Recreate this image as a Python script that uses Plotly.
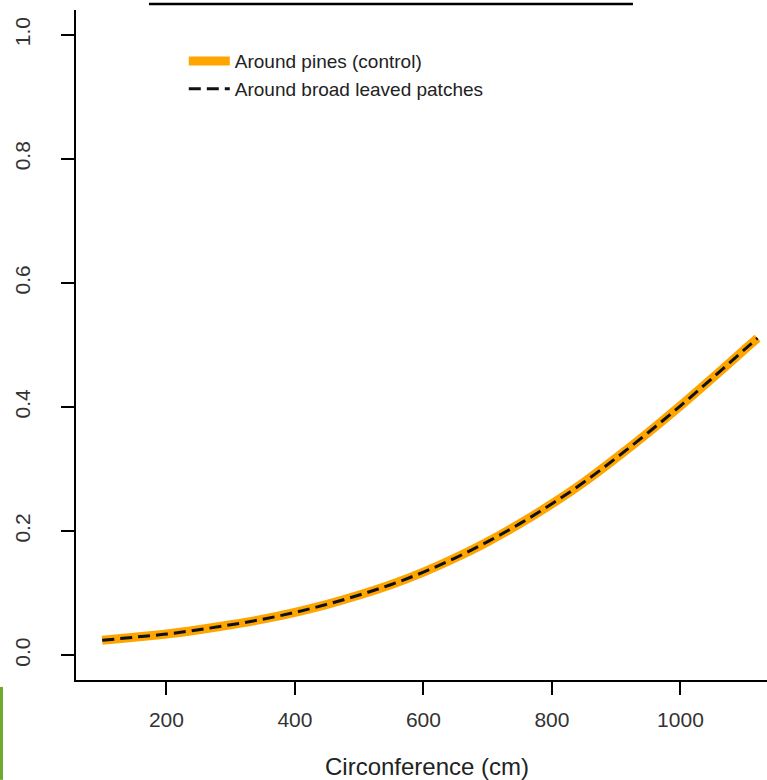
import plotly.graph_objects as go

# ---- data ----
circumference = [100, 150, 200, 250, 300, 350, 400, 450, 500, 550, 600, 650,
                 700, 750, 800, 850, 900, 950, 1000, 1050, 1100, 1120]
p_pines = [0.024, 0.029, 0.034, 0.041, 0.049, 0.058, 0.069, 0.082, 0.097, 0.114,
           0.134, 0.157, 0.183, 0.212, 0.244, 0.279, 0.318, 0.359, 0.402, 0.447,
           0.493, 0.511]
p_broad = [0.024, 0.029, 0.034, 0.041, 0.049, 0.058, 0.069, 0.082, 0.097, 0.114,
           0.134, 0.157, 0.183, 0.212, 0.244, 0.279, 0.318, 0.359, 0.402, 0.447,
           0.493, 0.511]
series_names = ["Around pines (control)", "Around broad leaved patches"]
x_tick_vals = [200, 400, 600, 800, 1000]
x_tick_text = ["200", "400", "600", "800", "1000"]
y_tick_vals = [0.0, 0.2, 0.4, 0.6, 0.8, 1.0]
y_tick_text = ["0.0", "0.2", "0.4", "0.6", "0.8", "1.0"]
x_title = "Circonference (cm)"

FONT = "Liberation Sans, Arial, sans-serif"

fig = go.Figure()
fig.add_trace(go.Scatter(
    x=circumference, y=p_pines, mode="lines", name=series_names[0],
    line=dict(color="#FFA500", width=9, shape="spline"), hoverinfo="skip"))
fig.add_trace(go.Scatter(
    x=circumference, y=p_broad, mode="lines", name=series_names[1],
    line=dict(color="#111111", width=3, dash="12px,6px", shape="spline"),
    hoverinfo="skip"))

fig.update_layout(
    width=767, height=780,
    margin=dict(l=76, r=0, t=10, b=100, autoexpand=False),
    paper_bgcolor="white", plot_bgcolor="white",
    font=dict(family=FONT, color="#222222", size=20),
    showlegend=True,
    legend=dict(x=0.156, y=0.952, xanchor="left", yanchor="top",
                bgcolor="rgba(0,0,0,0)", font=dict(size=19, color="#222222"),
                tracegroupgap=0, itemwidth=41),
    xaxis=dict(range=[59.2, 1134.7], showgrid=False, zeroline=False,
               showline=True, linecolor="black", linewidth=1.5,
               ticks="outside", ticklen=13, tickwidth=1.5, tickcolor="black",
               tickvals=x_tick_vals, ticktext=x_tick_text,
               tickfont=dict(size=21, color="#333333"), ticklabelstandoff=7),
    yaxis=dict(range=[-0.04, 1.04], showgrid=False, zeroline=False,
               showline=True, linecolor="black", linewidth=1.5,
               ticks="outside", ticklen=13, tickwidth=1.5, tickcolor="black",
               tickvals=y_tick_vals, ticktext=y_tick_text, tickangle=-90,
               tickfont=dict(size=21, color="#333333"), ticklabelstandoff=23),
    annotations=[dict(text=x_title, xref="paper", yref="paper",
                      x=0.508, y=-0.129, xanchor="center", yanchor="middle",
                      showarrow=False, font=dict(size=24, color="#222222"))],
    shapes=[
        # underline of the (cropped) title
        dict(type="line", xref="paper", yref="paper", x0=0.1056, x1=0.806,
             y0=1.009, y1=1.009, line=dict(color="black", width=2.5)),
        # green edge strip at bottom-left
        dict(type="rect", xref="paper", yref="paper", x0=-0.110, x1=-0.1056,
             y0=-0.149, y1=-0.0104, line=dict(width=0), fillcolor="#6BAA2C"),
    ],
)

fig.write_html("out.html",
               config={"displayModeBar": False},
               post_script="document.body.style.margin='0px';")
